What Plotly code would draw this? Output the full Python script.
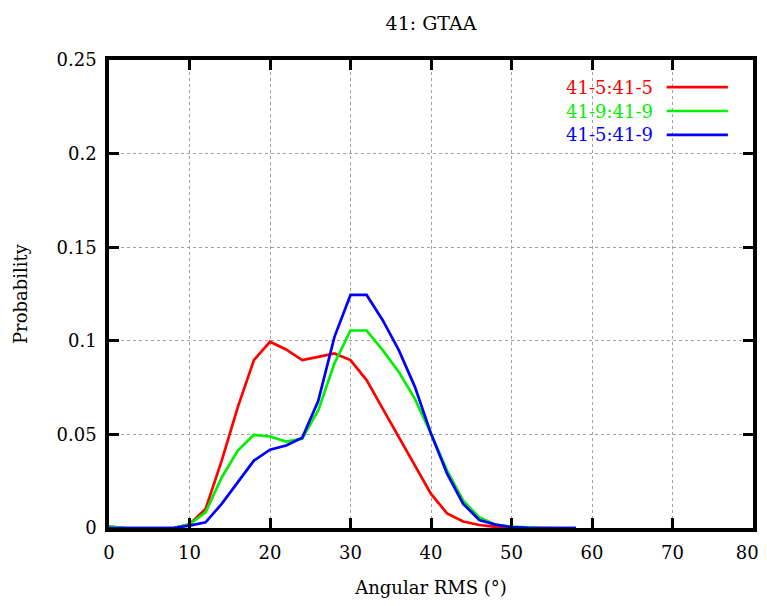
import plotly.graph_objects as go

angle = [0, 2, 4, 6, 8, 10, 12, 14, 16, 18, 20, 22, 24, 26, 28, 30, 32, 34, 36, 38,
         40, 42, 44, 46, 48, 50, 52, 54, 56, 58]

red_41_5 = [0.0008, 0, 0, 0, 0, 0.002, 0.0102, 0.036, 0.0646, 0.0897, 0.0995, 0.0954,
            0.0897, 0.0914, 0.0932, 0.0897, 0.079, 0.0638, 0.0486, 0.0334, 0.0182,
            0.0078, 0.0035, 0.0016, 0.0006, 0.0002, 0, 0, 0, 0]
green_41_9 = [0.0008, 0, 0, 0, 0, 0.002, 0.0084, 0.027, 0.0414, 0.0498, 0.0489, 0.0462,
              0.0477, 0.0629, 0.0879, 0.1055, 0.1055, 0.095, 0.0834, 0.069, 0.0504,
              0.0307, 0.0146, 0.0057, 0.0018, 0.0007, 0.0002, 0, 0, 0]
blue_41_5_9 = [0, 0, 0, 0, 0, 0.0013, 0.003, 0.0129, 0.0244, 0.036, 0.0418, 0.0441,
               0.0482, 0.068, 0.102, 0.1245, 0.1245, 0.111, 0.095, 0.0754, 0.0504,
               0.029, 0.0129, 0.0043, 0.0018, 0.0005, 0.0001, 0, 0, 0]

series_names = ["41-5:41-5", "41-9:41-9", "41-5:41-9"]
series_colors = ["#ff0000", "#00f000", "#0000ff"]
series_values = [red_41_5, green_41_9, blue_41_5_9]

x_ticks = [0, 10, 20, 30, 40, 50, 60, 70, 80]
# last label padded with non-breaking spaces so it stays inside the page edge
x_tick_labels = ["0", "10", "20", "30", "40", "50", "60", "70", "80\u00a0\u00a0"]
y_ticks = [0, 0.05, 0.1, 0.15, 0.2, 0.25]
y_tick_labels = ["0", "0.05", "0.1", "0.15", "0.2", "0.25"]

FONT = "DejaVu Serif"

fig = go.Figure()
for name, color, vals in zip(series_names, series_colors, series_values):
    fig.add_trace(go.Scatter(x=angle, y=vals, mode="lines", name=name,
                             line=dict(color=color, width=2.7), showlegend=False))

# legend (gnuplot style: text on left, sample line on right)
leg_y = [0.942, 0.891, 0.840]
for name, color, yy in zip(series_names, series_colors, leg_y):
    fig.add_annotation(text=name, xref="paper", yref="paper", x=0.848, y=yy,
                       xanchor="right", yanchor="middle", showarrow=False,
                       font=dict(family=FONT, size=18, color=color))
    fig.add_shape(type="line", xref="paper", yref="paper", x0=0.866, x1=0.961,
                  y0=yy, y1=yy, line=dict(color=color, width=2.7))

axis_common = dict(
    automargin=False,
    showline=True, linewidth=3.5, linecolor="black", mirror="ticks",
    ticks="inside", ticklen=10, tickwidth=2.5, tickcolor="black",
    showgrid=True, gridcolor="#a0a0a0", griddash="3px,3px", gridwidth=1,
    zeroline=False, tickfont=dict(family=FONT, size=18, color="black"),
)

fig.update_xaxes(range=[0, 80], tickvals=x_ticks, ticktext=x_tick_labels,
                 ticklabelstandoff=6, ticklabeloverflow="allow",
                 title=dict(text="Angular RMS (°)", standoff=20,
                            font=dict(family=FONT, size=18, color="black")),
                 **axis_common)
fig.update_yaxes(range=[0, 0.25], tickvals=y_ticks, ticktext=y_tick_labels,
                 ticklabelstandoff=5,
                 title=dict(text="Probability", standoff=25,
                            font=dict(family=FONT, size=18, color="black")),
                 **axis_common)

# the page body has an 8px default margin, so the figure is offset by 8px
fig.update_layout(
    width=751, height=590,
    margin=dict(l=101, r=6, t=52, b=70),
    paper_bgcolor="white", plot_bgcolor="white",
    title=dict(text="41: GTAA", x=0.5, xref="paper", xanchor="center",
               y=1 - 15 / 590, yref="container", yanchor="middle",
               font=dict(family=FONT, size=19, color="black")),
)

fig.write_html("out.html")
